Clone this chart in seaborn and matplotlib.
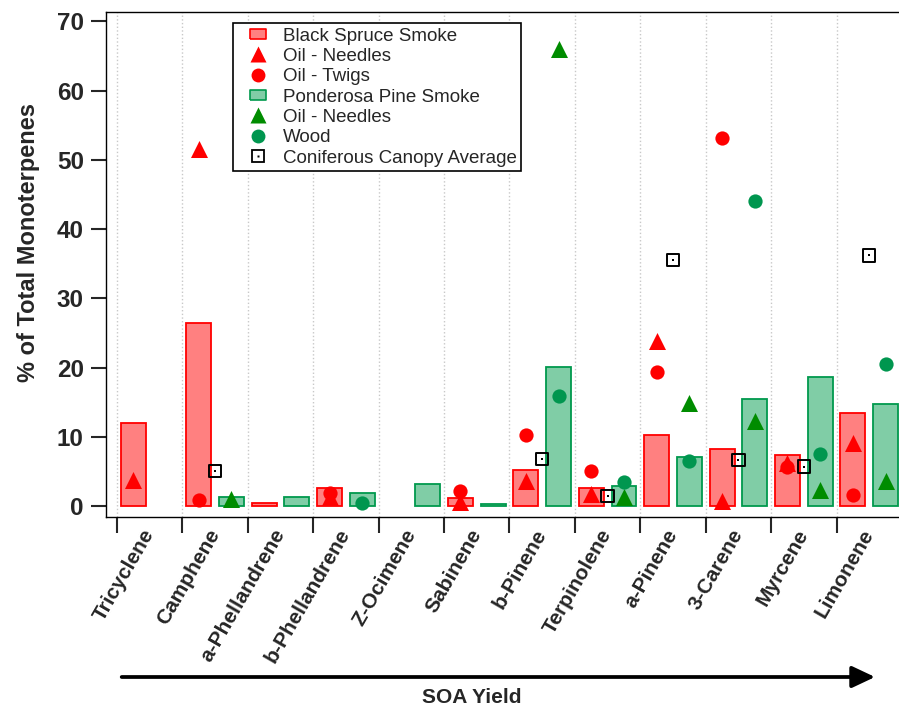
import numpy as np
import pandas as pd
import matplotlib
matplotlib.use('Agg')
import matplotlib.pyplot as plt
from matplotlib.lines import Line2D
from matplotlib.legend_handler import HandlerTuple
import seaborn as sns

nan = np.nan

# monoterpenes, ordered by SOA yield
compounds = ['Tricyclene', 'Camphene', 'a-Phellandrene', 'b-Phellandrene', 'Z-Ocimene',
             'Sabinene', 'b-Pinene', 'Terpinolene', 'a-Pinene', '3-Carene', 'Myrcene', 'Limonene']

# % of total monoterpenes (nan = not reported)
spruce_smoke = [12.0, 26.5, 0.5, 2.65, nan, 1.2, 5.25, 2.65, 10.3, 8.2, 7.4, 13.4]
spruce_needles = [3.7, 51.5, nan, 1.3, nan, 0.6, 3.6, 1.7, 23.8, 0.7, 6.2, 9.1]
spruce_twigs = [nan, 0.9, nan, 1.9, nan, 2.1, 10.3, 5.0, 19.4, 53.2, 5.7, 1.6]
pine_smoke = [nan, 1.3, 1.3, 1.9, 3.2, 0.3, 20.1, 2.9, 7.1, 15.4, 18.7, 14.8]
pine_needles = [nan, 1.0, nan, nan, nan, nan, 66.0, 1.35, 14.9, 12.3, 2.3, 3.6]
pine_wood = [nan, nan, nan, 0.4, nan, nan, 15.9, 3.5, 6.5, 44.0, 7.5, 20.5]
canopy_avg = [nan, 5.1, nan, nan, nan, nan, 6.8, 1.4, 35.5, 6.6, 5.7, 36.2]

# colours
red = '#FF0000'
red_fill = '#FF8080'
green_fill = '#80CDA6'
green_edge = '#00994D'
green_tri = '#008C00'
green_dot = '#00964F'

sns.set_style('white')
plt.rcParams['font.family'] = ['Liberation Sans', 'DejaVu Sans']

fig = plt.figure(figsize=(8.99, 7.06), dpi=100)
ax = fig.add_axes([0.1179, 0.2681, 0.8854, 0.7153])

pos = np.arange(len(compounds))

# bars (smoke measurements)
sns.barplot(x=pos - 0.25, y=spruce_smoke, native_scale=True, width=0.38, color=red_fill,
            saturation=1, errorbar=None, edgecolor=red, linewidth=1.3, ax=ax, zorder=2)
sns.barplot(x=pos + 0.25, y=pine_smoke, native_scale=True, width=0.38, color=green_fill,
            saturation=1, errorbar=None, edgecolor=green_edge, linewidth=1.3, ax=ax, zorder=2)

# points (oil / wood / canopy)
sns.scatterplot(x=pos - 0.25, y=spruce_needles, marker='^', s=150, color=red, linewidth=0, ax=ax, zorder=4)
sns.scatterplot(x=pos - 0.25, y=spruce_twigs, marker='o', s=105, color=red, linewidth=0, ax=ax, zorder=4)
sns.scatterplot(x=pos + 0.25, y=pine_needles, marker='^', s=150, color=green_tri, linewidth=0, ax=ax, zorder=4)
sns.scatterplot(x=pos + 0.25, y=pine_wood, marker='o', s=105, color=green_dot, linewidth=0, ax=ax, zorder=4)
sns.scatterplot(x=pos, y=canopy_avg, marker='s', s=78, facecolors='none', edgecolor='black',
                linewidth=1.4, ax=ax, zorder=5)
sns.scatterplot(x=pos, y=canopy_avg, marker='s', s=2, color='black', linewidth=0, ax=ax, zorder=6)

# axes
ax.set_xlim(-0.668, 11.5)
ax.set_ylim(-1.55, 71.4)
ax.set_yticks(range(0, 71, 10))
ax.tick_params(axis='y', direction='out', length=11, width=1.5, pad=5, labelsize=17.5, left=True)
for t in ax.get_yticklabels():
    t.set_fontweight('bold')

ax.set_xticks(pos)
ax.set_xticklabels(compounds, rotation=60, ha='right', va='center', rotation_mode='anchor',
                   fontsize=15, fontweight='bold')
ax.set_xticks(np.arange(len(compounds) + 1) - 0.5, minor=True)
ax.tick_params(axis='x', which='major', length=0, pad=10)
ax.tick_params(axis='x', which='minor', direction='out', length=11.5, width=1.5, bottom=True)
ax.grid(which='major', visible=False)
ax.grid(which='minor', axis='x', visible=True, color='#c8c8c8', linestyle=':', linewidth=1)
ax.set_axisbelow(True)

for s in ax.spines.values():
    s.set_color('black')
    s.set_linewidth(1.0)

ax.set_xlabel('')
ax.set_ylabel('% of Total Monoterpenes', fontsize=17, fontweight='bold')
ax.yaxis.set_label_coords(-0.083, 0.543)

# legend
rect = [(-1, -0.6), (1, -0.6), (1, 0.6), (-1, 0.6), (-1, -0.6)]
handles = [
    Line2D([], [], ls='none', marker=rect, ms=12, mfc=red_fill, mec=red, mew=1.2),
    Line2D([], [], ls='none', marker='^', ms=11.5, mfc=red, mec='none'),
    Line2D([], [], ls='none', marker='o', ms=10, mfc=red, mec='none'),
    Line2D([], [], ls='none', marker=rect, ms=12, mfc=green_fill, mec=green_edge, mew=1.2),
    Line2D([], [], ls='none', marker='^', ms=11.5, mfc=green_tri, mec='none'),
    Line2D([], [], ls='none', marker='o', ms=10, mfc=green_dot, mec='none'),
    (Line2D([], [], ls='none', marker='s', ms=8.5, mfc='none', mec='black', mew=1.3),
     Line2D([], [], ls='none', marker='s', ms=1.5, mfc='black', mec='none')),
]
labels = ['Black Spruce Smoke', 'Oil - Needles', 'Oil - Twigs', 'Ponderosa Pine Smoke',
          'Oil - Needles', 'Wood', 'Coniferous Canopy Average']
leg = ax.legend(handles, labels, loc='upper left', bbox_to_anchor=(0.1595, 0.978),
                borderaxespad=0, frameon=True, fancybox=False, edgecolor='black', framealpha=1,
                fontsize=13.5, handlelength=2.2, handletextpad=0.2, borderpad=0.25,
                labelspacing=0.17, handler_map={tuple: HandlerTuple(ndivide=1, pad=0)})
leg.get_frame().set_linewidth(1.2)

# SOA yield arrow
ax.annotate('', xy=(875 / 899, 1 - 677 / 706), xytext=(121.7 / 899, 1 - 677 / 706),
            xycoords='figure fraction', textcoords='figure fraction',
            arrowprops=dict(arrowstyle='-|>,head_length=0.7,head_width=0.33', mutation_scale=20,
                            lw=2.7, color='black', shrinkA=0, shrinkB=0))
fig.text(472 / 899, 1 - 697.5 / 706, 'SOA Yield', ha='center', va='center', fontsize=15,
         fontweight='bold')

fig.savefig('out.png', dpi=100)
